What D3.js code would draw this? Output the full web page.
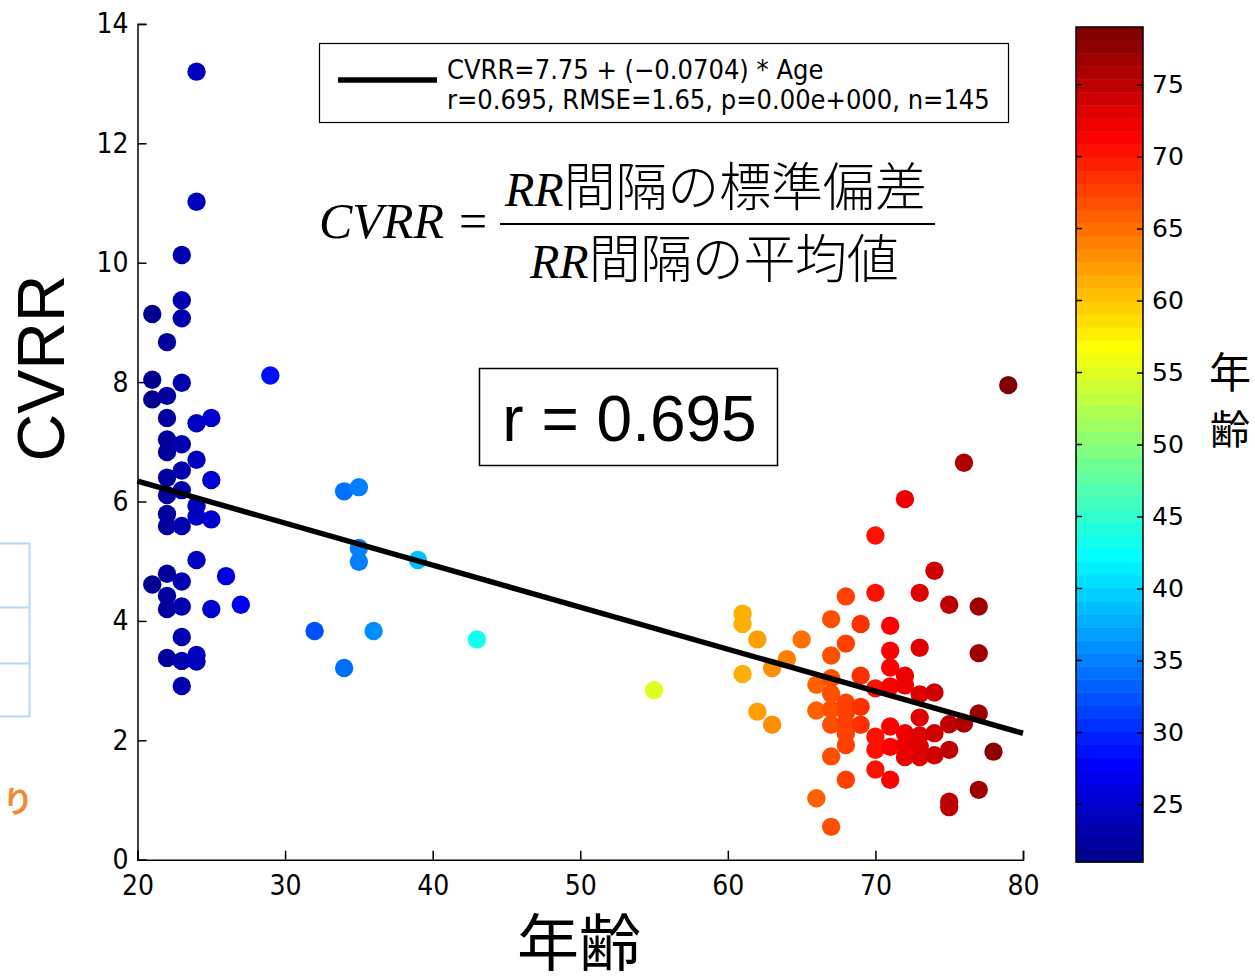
<!DOCTYPE html>
<html>
<head>
<meta charset="utf-8">
<script src="https://cdn.jsdelivr.net/npm/d3@7"></script>
<style>
  html, body { margin: 0; padding: 0; background: #fff; }
  svg { display: block; }
</style>
</head>
<body>
<svg id="chart" width="1255" height="976"></svg>
<script>
// Age (years) of each subject
const ages = [
  24, 24, 23, 23, 23, 21, 22,
  21, 21, 22, 22, 22, 22, 22, 22, 22, 22, 23, 23, 23, 23, 23, 24, 24, 24, 24, 25, 25, 25,
  24, 22, 21, 23, 26, 22, 22, 23, 25, 27, 23, 22, 23, 24, 24, 23,
  29, 34, 35, 35, 35, 39, 32, 36, 34, 43, 55,
  61, 61, 61, 62, 62, 63, 63, 64, 65, 66, 66, 66,
  67, 67, 67, 67, 67, 67, 67, 67,
  68, 68, 68, 68, 68, 68, 68, 68,
  69, 69, 69, 69,
  70, 70, 70, 70, 70, 70,
  71, 71, 71, 71, 71, 71, 71,
  72, 72, 72, 72, 72, 72,
  73, 73, 73, 73, 73, 73, 73,
  74, 74, 74, 74,
  75, 75, 75, 75, 75,
  76, 76, 77, 77, 77, 77, 78, 79
];
// CVRR (%) of each subject, same order as ages
const cvrr = [
  13.2, 11.02, 10.13, 9.37, 9.07, 9.14, 8.67,
  8.04, 7.71, 7.77, 7.40, 7.04, 6.83, 6.40, 6.11, 5.79, 5.59, 7.99, 6.96, 6.52, 6.19, 5.59, 7.31, 6.70, 5.93, 5.75, 7.40, 6.36, 5.70,
  5.02, 4.79, 4.61, 4.66, 4.75, 4.42, 4.20, 4.24, 4.20, 4.27, 3.73, 3.38, 3.33, 3.43, 3.32, 2.91,
  8.11, 6.17, 6.24, 5.22, 4.99, 5.02, 3.83, 3.83, 3.21, 3.69, 2.84,
  4.12, 3.95, 3.11, 3.69, 2.48, 3.21, 2.26, 3.36, 3.69, 2.93, 2.50, 1.03,
  4.03, 3.42, 3.04, 2.78, 2.52, 2.26, 1.73, 0.55,
  4.41, 3.62, 2.63, 2.46, 2.28, 2.11, 1.92, 1.34,
  3.95, 3.08, 2.56, 2.26,
  5.43, 4.47, 2.87, 2.06, 1.84, 1.51,
  3.92, 3.50, 3.22, 2.90, 2.23, 1.89, 1.34,
  6.04, 3.08, 2.92, 2.12, 1.92, 1.72,
  4.47, 3.55, 2.77, 2.38, 2.08, 1.90, 1.72,
  4.84, 2.80, 2.12, 1.75,
  4.27, 2.27, 1.84, 0.97, 0.88,
  6.65, 2.28, 4.24, 3.46, 2.45, 1.17, 1.81, 7.95
];

// Fit reported in the legend
const fitIntercept = 7.75;
const fitSlope = -0.0704;
const legendLines = [
  "CVRR=7.75 + (\u22120.0704) * Age",
  "r=0.695, RMSE=1.65, p=0.00e+000, n=145"
];
const rLabel = "r = 0.695";

const xTicks = [20, 30, 40, 50, 60, 70, 80];
const yTicks = [0, 2, 4, 6, 8, 10, 12, 14];
const cbarTicks = [25, 30, 35, 40, 45, 50, 55, 60, 65, 70, 75];
const ageRange = [21, 79];

// MATLAB-style jet colormap with 64 entries
function jetColor(k, m = 64) {
  const n = Math.ceil(m / 4);
  const u = j => (j < 1 ? 0 : j <= n ? j / n : j <= 2 * n - 1 ? 1 : j <= 3 * n - 1 ? (3 * n - j) / n : 0);
  const off = Math.ceil(n / 2) - (m % 4 === 1 ? 1 : 0);
  const r = u(k - off - n), g = u(k - off), b = u(k - off + n);
  return d3.rgb(r * 255, g * 255, b * 255).toString();
}
const nColors = 64;
const colorOf = v => {
  let idx = Math.floor((v - ageRange[0]) / (ageRange[1] - ageRange[0]) * nColors) + 1;
  idx = Math.max(1, Math.min(nColors, idx));
  return jetColor(idx);
};

const svg = d3.select("#chart");

const tickFont = "'Liberation Sans Narrow', 'Arial Narrow', 'DejaVu Sans Condensed', sans-serif";

// Stray page content at the left edge
const side = svg.append("g");
side.append("path")
  .attr("d", "M0,543.5 H29.5 V716.5 H0 M0,607.5 H29.5 M0,663.5 H29.5")
  .attr("fill", "none").attr("stroke", "#b7d7f7").attr("stroke-width", 2);
side.append("text")
  .attr("x", 3).attr("y", 812)
  .attr("font-family", "'Noto Sans CJK JP', sans-serif").attr("font-weight", "bold")
  .attr("font-size", 30).attr("fill", "#f28a35").text("り");

// Scales
const x = d3.scaleLinear().domain([20, 80]).range([137.5, 1023]);
const y = d3.scaleLinear().domain([0, 14]).range([859.7, 23.9]);

// Axes (left and bottom only, ticks pointing inward)
const yAxis = d3.axisLeft(y).tickValues(yTicks).tickSize(-9).tickPadding(9).tickFormat(d3.format("d"));
const gy = svg.append("g").attr("transform", `translate(${x(20)},0)`).call(yAxis);
const xAxis = d3.axisBottom(x).tickValues(xTicks).tickSize(-9).tickPadding(13).tickFormat(d3.format("d"));
const gx = svg.append("g").attr("transform", `translate(0,${y(0)})`).call(xAxis);
[gx, gy].forEach(g => {
  g.select(".domain").attr("stroke", "#000").attr("stroke-width", 1.5);
  g.selectAll(".tick line").attr("stroke", "#000").attr("stroke-width", 1.5);
  g.selectAll(".tick text").attr("font-family", tickFont).attr("font-size", 28).attr("fill", "#000");
});
gx.selectAll(".tick text").attr("dy", "0.8em");

// Scatter points
const pts = ages.map((a, i) => ({ age: a, v: cvrr[i] }));
svg.append("g").selectAll("circle").data(pts).join("circle")
  .attr("cx", d => x(d.age)).attr("cy", d => y(d.v)).attr("r", 9.2)
  .attr("fill", d => colorOf(d.age));

// Regression line
svg.append("line")
  .attr("x1", x(20)).attr("y1", y(fitIntercept + fitSlope * 20))
  .attr("x2", x(80)).attr("y2", y(fitIntercept + fitSlope * 80))
  .attr("stroke", "#000").attr("stroke-width", 5.5);

// Legend
const leg = svg.append("g");
leg.append("rect").attr("x", 319.5).attr("y", 43.5).attr("width", 689).attr("height", 79)
  .attr("fill", "#fff").attr("stroke", "#000").attr("stroke-width", 1.2);
leg.append("line").attr("x1", 338).attr("x2", 437).attr("y1", 80).attr("y2", 80)
  .attr("stroke", "#000").attr("stroke-width", 5.5);
leg.selectAll("text.leg").data(legendLines).join("text").attr("class", "leg")
  .attr("x", 447).attr("y", (d, i) => 79 + i * 30)
  .attr("font-family", tickFont).attr("font-size", 27).attr("fill", "#000")
  .text(d => d);

// Definition of CVRR
const eq = svg.append("g");
const serif = "'Liberation Serif', 'Times New Roman', serif";
const cjk = "'Noto Sans CJK JP', sans-serif";
eq.append("text").attr("x", 319).attr("y", 238)
  .attr("font-family", serif).attr("font-style", "italic").attr("font-size", 50).text("CVRR");
eq.append("text").attr("x", 459).attr("y", 238)
  .attr("font-family", serif).attr("font-size", 50).text("=");
eq.append("line").attr("x1", 500).attr("x2", 935).attr("y1", 224).attr("y2", 224)
  .attr("stroke", "#000").attr("stroke-width", 2);
const num = eq.append("text").attr("x", 505).attr("y", 206);
num.append("tspan").attr("font-family", serif).attr("font-style", "italic").attr("font-size", 48).text("RR");
num.append("tspan").attr("font-family", cjk).attr("font-weight", 300).attr("font-size", 52)
  .attr("textLength", 363).attr("lengthAdjust", "spacing").text("間隔の標準偏差");
const den = eq.append("text").attr("x", 530).attr("y", 278);
den.append("tspan").attr("font-family", serif).attr("font-style", "italic").attr("font-size", 48).text("RR");
den.append("tspan").attr("font-family", cjk).attr("font-weight", 300).attr("font-size", 52)
  .attr("textLength", 310).attr("lengthAdjust", "spacing").text("間隔の平均値");

// Correlation box
svg.append("rect").attr("x", 479.5).attr("y", 368.5).attr("width", 298).attr("height", 97)
  .attr("fill", "#fff").attr("stroke", "#000").attr("stroke-width", 1.5);
svg.append("text").attr("x", 629.5).attr("y", 441).attr("text-anchor", "middle")
  .attr("font-family", "'Liberation Sans', Arial, sans-serif").attr("font-size", 64).text(rLabel);

// Axis titles
svg.append("text").attr("transform", "translate(64,368) rotate(-90)").attr("text-anchor", "middle")
  .attr("font-family", "'Liberation Sans', Arial, sans-serif").attr("font-size", 66).text("CVRR");
svg.append("text").attr("x", 579).attr("y", 966).attr("text-anchor", "middle")
  .attr("font-family", cjk).attr("font-size", 62).text("年齢");

// Colorbar
const cb = { x: 1076, w: 67, top: 27, bottom: 862 };
const cy = d3.scaleLinear().domain(ageRange).range([cb.bottom, cb.top]);
const bandH = (cb.bottom - cb.top) / nColors;
svg.append("g").selectAll("rect").data(d3.range(1, nColors + 1)).join("rect")
  .attr("x", cb.x).attr("width", cb.w)
  .attr("y", k => cb.bottom - k * bandH).attr("height", bandH + 0.5)
  .attr("fill", k => jetColor(k));
svg.append("rect").attr("x", cb.x).attr("y", cb.top).attr("width", cb.w).attr("height", cb.bottom - cb.top)
  .attr("fill", "none").attr("stroke", "#000").attr("stroke-width", 1.5);
const cbAxis = d3.axisRight(cy).tickValues(cbarTicks).tickSize(-6).tickPadding(9);
const gcb = svg.append("g").attr("transform", `translate(${cb.x + cb.w},0)`).call(cbAxis);
gcb.select(".domain").remove();
gcb.selectAll(".tick line").attr("stroke", "#000").attr("stroke-width", 1.5);
gcb.selectAll(".tick text").attr("font-family", "'DejaVu Sans', sans-serif").attr("font-size", 25).attr("fill", "#000");
svg.append("g").selectAll("line").data(cbarTicks).join("line")
  .attr("x1", cb.x).attr("x2", cb.x + 6).attr("y1", d => cy(d)).attr("y2", d => cy(d))
  .attr("stroke", "#000").attr("stroke-width", 1.5);
svg.append("text").attr("x", 1230).attr("y", 388).attr("text-anchor", "middle")
  .attr("font-family", cjk).attr("font-size", 42).text("年");
svg.append("text").attr("x", 1230).attr("y", 444).attr("text-anchor", "middle")
  .attr("font-family", cjk).attr("font-size", 40).text("齢");
</script>
</body>
</html>
